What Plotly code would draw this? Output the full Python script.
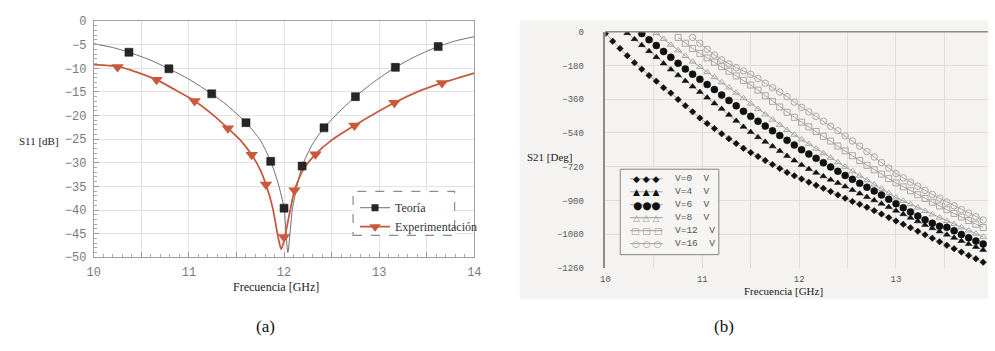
import plotly.graph_objects as go

W, H = 995, 351

# ---------------- (a) S11 data ----------------
teo_f = [10.37, 10.79, 11.24, 11.60, 11.86, 12.00, 12.19, 12.42, 12.75, 13.17, 13.62]
teo_db = [-6.6, -10.1, -15.4, -21.5, -29.7, -39.6, -30.7, -22.6, -16.0, -9.8, -5.4]
teo_curve_f = [10.0, 10.2, 10.37, 10.6, 10.79, 11.0, 11.24, 11.4, 11.6, 11.75, 11.86, 11.94,
               12.0, 12.04, 12.09, 12.19, 12.3, 12.42, 12.6, 12.75, 12.95, 13.17, 13.4,
               13.62, 13.8, 14.0]
teo_curve_db = [-4.8, -5.6, -6.6, -8.3, -10.1, -12.3, -15.4, -17.8, -21.5, -25.2, -29.7, -34.5,
                -39.6, -49.0, -39.5, -30.7, -26.0, -22.6, -18.8, -16.0, -12.8, -9.8, -7.3,
                -5.4, -4.2, -3.3]

exp_f = [10.25, 10.66, 11.06, 11.41, 11.66, 11.81, 12.00, 12.11, 12.33, 12.74, 13.16, 13.66]
exp_db = [-9.7, -12.4, -16.9, -22.7, -28.3, -34.6, -45.7, -35.8, -28.2, -22.1, -17.3, -13.1]
exp_curve_f = [10.0, 10.25, 10.45, 10.66, 10.85, 11.06, 11.25, 11.41, 11.55, 11.66, 11.75,
               11.81, 11.88, 11.94, 11.97, 12.0, 12.05, 12.11, 12.2, 12.33, 12.5, 12.74,
               12.95, 13.16, 13.4, 13.66, 13.85, 14.0]
exp_curve_db = [-9.2, -9.6, -10.8, -12.4, -14.5, -16.9, -19.8, -22.7, -25.4, -28.3, -31.5,
                -34.6, -39.5, -46.0, -48.3, -46.5, -41.5, -35.8, -31.5, -28.2, -25.2, -22.1,
                -19.6, -17.3, -15.0, -13.1, -11.9, -11.0]

a_xticks = [10, 10.5, 11, 11.5, 12, 12.5, 13, 13.5, 14]
a_xlabels = ["10", "", "11", "", "12", "", "13", "", "14"]
a_yticks = [0, -5, -10, -15, -20, -25, -30, -35, -40, -45, -50]

# ---------------- (b) S21 phase data ----------------
freq_b = [10.0, 10.075, 10.15, 10.225, 10.3, 10.375, 10.45, 10.525, 10.6, 10.675, 10.75,
          10.825, 10.9, 10.975, 11.05, 11.125, 11.2, 11.275, 11.35, 11.425, 11.5, 11.575,
          11.65, 11.725, 11.8, 11.875, 11.95, 12.025, 12.1, 12.175, 12.25, 12.325, 12.4,
          12.475, 12.55, 12.625, 12.7, 12.775, 12.85, 12.925, 13.0, 13.075, 13.15, 13.225,
          13.3, 13.375, 13.45, 13.525, 13.6, 13.675, 13.75, 13.825, 13.9]

ph_v0 = [-10, -51, -90, -128, -166, -200, -234, -264, -299, -328,
         -362, -395, -428, -461, -490, -517, -545, -571, -597, -622,
         -645, -666, -688, -709, -730, -751, -769, -786, -803, -820,
         -836, -853, -871, -889, -906, -921, -937, -955, -973, -992,
         -1010, -1028, -1046, -1065, -1084, -1102, -1121, -1140, -1158, -1176,
         -1194, -1212, -1230]
ph_v4 = [None, None, None,
         -8, -40, -72, -104, -136, -170, -202, -233, -263, -293,
         -322, -352, -383, -412, -444, -476, -508, -536, -563, -588,
         -612, -637, -663, -688, -711, -733, -753, -772, -790, -807,
         -826, -845, -864, -882, -900, -918, -936, -955, -974, -993,
         -1012, -1031, -1049, -1066, -1083, -1100, -1117, -1133, -1149, -1165]
ph_v6 = [None, None, None, None, None,
         -10, -43, -74, -106, -137, -169, -199, -227, -254, -282,
         -309, -338, -367, -396, -425, -452, -478, -504, -529, -554,
         -580, -605, -630, -653, -676, -699, -722, -745, -767, -788,
         -809, -830, -850, -871, -894, -918, -940, -962, -984, -1004,
         -1022, -1038, -1044, -1062, -1082, -1100, -1117, -1133]
ph_v8 = [None, None, None, None, None, None, None,
         -8, -39, -70, -100, -130, -160, -188, -216, -243, -270,
         -298, -326, -355, -384, -413, -442, -470, -498, -525, -550,
         -575, -600, -625, -649, -673, -697, -721, -745, -769, -793,
         -816, -839, -862, -885, -903, -921, -939, -957, -975, -992,
         -1010, -1027, -1044, -1061, -1078, -1095]
ph_v12 = [None, None, None, None, None, None, None, None, None, None,
          -31, -62, -90, -116, -140, -163, -187, -211, -236, -260,
          -285, -312, -342, -372, -402, -430, -457, -483, -508, -533,
          -558, -584, -610, -636, -662, -688, -713, -737, -760, -784,
          -807, -828, -849, -870, -890, -910, -930, -950, -970, -989,
          -1008, -1027, -1045]
ph_v16 = [None, None, None, None, None, None, None, None, None, None, None, None,
          -31, -62, -94, -125, -150, -172, -192, -210, -228, -250,
          -275, -299, -322, -347, -376, -404, -428, -452, -478, -505,
          -529, -556, -583, -611, -640, -669, -698, -728, -757, -780,
          -803, -825, -847, -868, -889, -909, -929, -949, -968, -987,
          -1005]

b_names = ["V=0  V", "V=4  V", "V=6  V", "V=8  V", "V=12  V", "V=16  V"]
b_series = [ph_v0, ph_v4, ph_v6, ph_v8, ph_v12, ph_v16]
b_xticks = [10, 10.5, 11, 11.5, 12, 12.5, 13, 13.5]
b_xlabels = ["10", "", "11", "", "12", "", "13", ""]
b_yticks = [0, -180, -360, -540, -720, -900, -1080, -1260]

# ---------------- styles ----------------
b_styles = [
    dict(symbol="diamond", size=5, color="#111111", lw=0.5,
         glyph="\u25c6 \u25c6 \u25c6", gsize=9, gcolor="#111111"),
    dict(symbol="triangle-up", size=6, color="#111111", lw=0.5,
         glyph="\u25b2 \u25b2 \u25b2", gsize=9, gcolor="#111111"),
    dict(symbol="circle", size=7, color="#111111", lw=0.5,
         glyph="\u25cf\u25cf\u25cf", gsize=10.5, gcolor="#111111"),
    dict(symbol="triangle-up-open", size=6, color="#a0a0a0", lw=0.9,
         glyph="\u25b3 \u25b3 \u25b3", gsize=9, gcolor="#9a9a9a"),
    dict(symbol="square-open", size=6, color="#a0a0a0", lw=0.9,
         glyph="\u25a1 \u25a1 \u25a1", gsize=9, gcolor="#9a9a9a"),
    dict(symbol="circle-open", size=6.5, color="#a0a0a0", lw=0.9,
         glyph="\u25cb \u25cb \u25cb", gsize=9, gcolor="#9a9a9a"),
]


def px(x):
    return x / W


def py(y):
    return 1 - y / H


fig = go.Figure()

# (a) curves
fig.add_trace(go.Scatter(x=teo_curve_f, y=teo_curve_db, mode="lines", xaxis="x", yaxis="y",
                         line=dict(color="#6e6e6e", width=1, shape="spline", smoothing=0.6),
                         showlegend=False, hoverinfo="skip"))
fig.add_trace(go.Scatter(x=exp_curve_f, y=exp_curve_db, mode="lines", xaxis="x", yaxis="y",
                         line=dict(color="#c65a3e", width=1.8, shape="spline", smoothing=0.6),
                         showlegend=False, hoverinfo="skip"))
fig.add_trace(go.Scatter(x=teo_f, y=teo_db, mode="markers", xaxis="x", yaxis="y",
                         marker=dict(symbol="square", size=8, color="#262626",
                                     line=dict(color="#111", width=0.5)),
                         showlegend=False))
fig.add_trace(go.Scatter(x=exp_f, y=exp_db, mode="markers", xaxis="x", yaxis="y",
                         marker=dict(symbol="triangle-down", size=11, color="#c9593b",
                                     line=dict(width=0)),
                         showlegend=False))
# legend entries for (a)
fig.add_trace(go.Scatter(x=[None], y=[None], mode="lines+markers", xaxis="x", yaxis="y",
                         name="Teoría", line=dict(color="#6e6e6e", width=1),
                         marker=dict(symbol="square", size=7, color="#262626")))
fig.add_trace(go.Scatter(x=[None], y=[None], mode="lines+markers", xaxis="x", yaxis="y",
                         name="Experimentación", line=dict(color="#c65a3e", width=1.8),
                         marker=dict(symbol="triangle-down", size=10, color="#c9593b")))

# (b) series
for name, vals, st in zip(b_names, b_series, b_styles):
    fig.add_trace(go.Scatter(
        x=freq_b, y=vals, mode="lines+markers", name=name, xaxis="x2", yaxis="y2",
        line=dict(color="#8a8a8a", width=0.7),
        marker=dict(symbol=st["symbol"], size=st["size"], color=st["color"],
                    line=dict(color=st["color"], width=st["lw"])),
        showlegend=False, connectgaps=False))

shapes = []
annotations = []

# right panel background
shapes.append(dict(type="rect", xref="paper", yref="paper", x0=px(520), x1=1.0,
                   y0=py(305), y1=py(15), fillcolor="#f4f3f1", line=dict(width=0),
                   layer="below"))
# top border of (b)
shapes.append(dict(type="line", xref="x2 domain", yref="y2 domain", x0=0, x1=1, y0=1, y1=1,
                   line=dict(color="#8e8a84", width=1.5)))
# dashed legend box of (a)
shapes.append(dict(type="rect", xref="paper", yref="paper", x0=px(351), x1=px(454),
                   y0=py(239), y1=py(193), line=dict(color="#8c8c8c", width=1.2, dash="dash"),
                   fillcolor="rgba(255,255,255,0.85)"))
# legend box of (b)
shapes.append(dict(type="rect", xref="paper", yref="paper", x0=px(622), x1=px(722),
                   y0=py(259), y1=py(170), line=dict(color="#8a8580", width=1),
                   fillcolor="#f6f5f3"))
row_y0, row_dy = 180.0, 13.5
for k, (name, st) in enumerate(zip(b_names, b_styles)):
    ry = row_y0 + k * row_dy
    shapes.append(dict(type="line", xref="paper", yref="paper", x0=px(632), x1=px(665),
                       y0=py(ry), y1=py(ry), line=dict(color="#8a8a8a", width=0.8)))
    annotations.append(dict(xref="paper", yref="paper", x=px(649), y=py(ry), text=st["glyph"],
                            showarrow=False, xanchor="center", yanchor="middle",
                            font=dict(family="DejaVu Sans", size=st["gsize"], color=st["gcolor"])))
    annotations.append(dict(xref="paper", yref="paper", x=px(675), y=py(ry), text=name,
                            showarrow=False, xanchor="left", yanchor="middle",
                            font=dict(family="Liberation Mono", size=9.5, color="#555")))

# axis titles and captions
annotations += [
    dict(xref="paper", yref="paper", x=px(10), y=py(141), text="S11 [dB]", showarrow=False,
         xanchor="left", yanchor="middle", font=dict(family="Liberation Serif", size=11, color="#222")),
    dict(xref="paper", yref="paper", x=px(273), y=py(293), text="Frecuencia [GHz]", showarrow=False,
         xanchor="center", yanchor="middle", font=dict(family="Liberation Serif", size=12, color="#222")),
    dict(xref="paper", yref="paper", x=px(525), y=py(157), text="S21 [Deg]", showarrow=False,
         xanchor="left", yanchor="middle", font=dict(family="Liberation Serif", size=11, color="#222")),
    dict(xref="paper", yref="paper", x=px(788), y=py(297), text="Frecuencia [GHz]", showarrow=False,
         xanchor="center", yanchor="middle", font=dict(family="Liberation Serif", size=11, color="#222")),
    dict(xref="paper", yref="paper", x=px(262), y=py(334), text="(a)", showarrow=False,
         xanchor="center", yanchor="middle", font=dict(family="Liberation Serif", size=17, color="#111")),
    dict(xref="paper", yref="paper", x=px(727), y=py(334), text="(b)", showarrow=False,
         xanchor="center", yanchor="middle", font=dict(family="Liberation Serif", size=17, color="#111")),
]

mono_a = dict(family="Liberation Mono", size=12, color="#7a7a7a")
mono_b = dict(family="Liberation Mono", size=9, color="#5a5a5a")

fig.update_layout(
    width=W, height=H, margin=dict(l=0, r=0, t=0, b=0),
    paper_bgcolor="white", plot_bgcolor="white",
    showlegend=True,
    legend=dict(x=px(353), y=py(195), xanchor="left", yanchor="top",
                bgcolor="rgba(0,0,0,0)", borderwidth=0, itemwidth=30, tracegroupgap=0,
                font=dict(family="Liberation Serif", size=12, color="#333")),
    xaxis=dict(domain=[px(88), px(474)], range=[10, 14], anchor="y",
               tickmode="array", tickvals=a_xticks, ticktext=a_xlabels,
               ticks="inside", ticklen=5, tickcolor="#999", tickfont=mono_a,
               ticklabelstandoff=3,
               showgrid=True, gridcolor="#e2e2e2", gridwidth=1,
               showline=True, linecolor="#a0a0a0", linewidth=1, mirror=True, zeroline=False,
               minor=dict(tickmode="linear", tick0=10, dtick=0.1, ticks="inside", ticklen=3,
                          tickcolor="#aaa", showgrid=False)),
    yaxis=dict(domain=[py(261.7), py(15.7)], range=[-50, 0], anchor="x",
               tickmode="array", tickvals=a_yticks,
               ticks="inside", ticklen=5, tickcolor="#999", tickfont=mono_a,
               ticklabelstandoff=4,
               showgrid=True, gridcolor="#e2e2e2", gridwidth=1,
               showline=True, linecolor="#a0a0a0", linewidth=1, mirror=True, zeroline=False,
               minor=dict(tickmode="linear", tick0=0, dtick=1, ticks="inside", ticklen=3,
                          tickcolor="#aaa", showgrid=False)),
    xaxis2=dict(domain=[px(607), 1.0], range=[10, 13.95], anchor="y2",
                tickmode="array", tickvals=b_xticks, ticktext=b_xlabels,
                ticks="", tickfont=mono_b, ticklabelstandoff=4,
                showgrid=True, gridcolor="#e0ddd8", gridwidth=1,
                showline=False, zeroline=False),
    yaxis2=dict(domain=[py(272.7), py(26.7)], range=[-1260, 0], anchor="x2",
                tickmode="array", tickvals=b_yticks,
                ticks="", tickfont=mono_b, ticklabelstandoff=18,
                showgrid=True, gridcolor="#e0ddd8", gridwidth=1,
                showline=True, linecolor="#8e8a84", linewidth=1.5, zeroline=False),
    shapes=shapes,
    annotations=annotations,
)

fig.write_html("out.html")
